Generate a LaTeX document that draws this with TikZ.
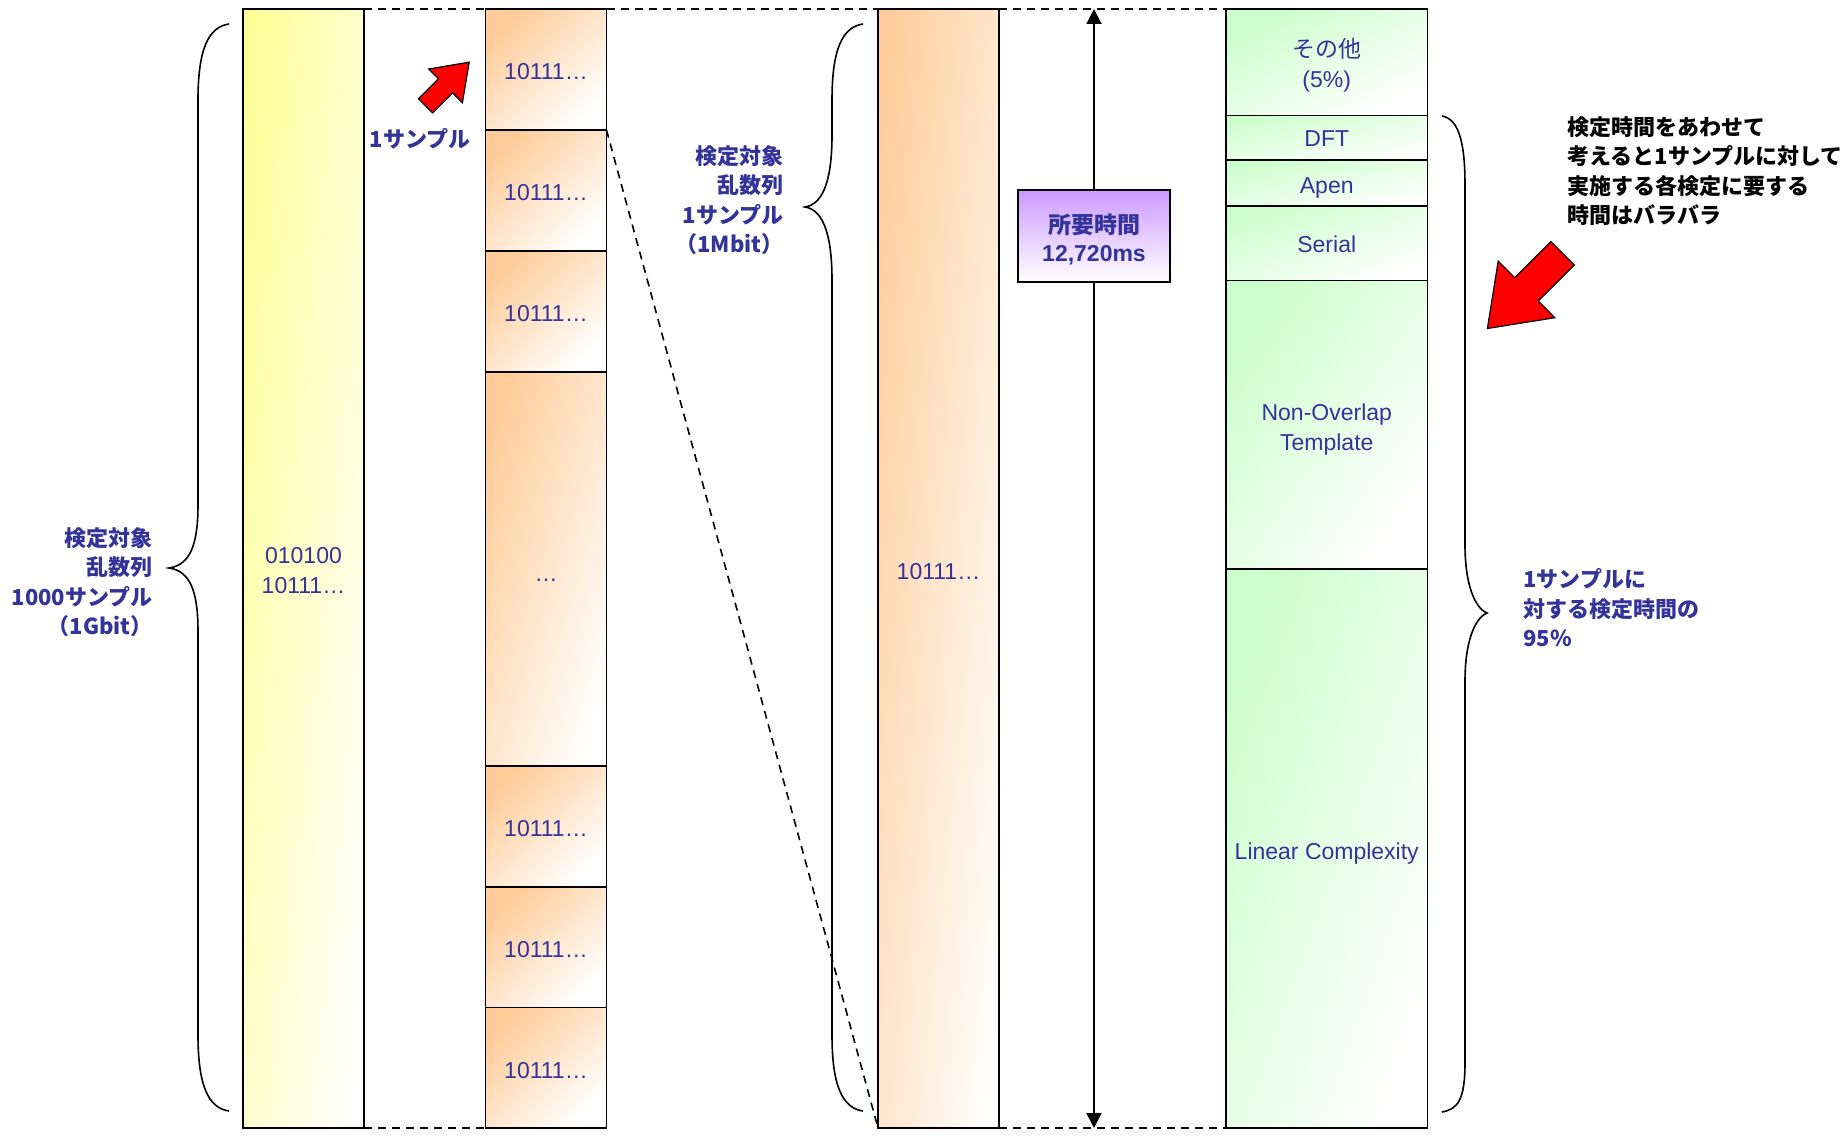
\documentclass[tikz,border=0pt]{standalone}
\usepackage{fontspec}
\setmainfont{Liberation Sans}
\newfontfamily\jp{Noto Sans CJK JP}
\usetikzlibrary{arrows.meta}
\definecolor{txtblue}{RGB}{51,51,153}
\definecolor{ylw}{RGB}{255,255,153}
\definecolor{orng}{RGB}{255,204,153}
\definecolor{grn}{RGB}{204,255,204}
\definecolor{purp}{RGB}{204,153,255}
\tikzset{
  col/.style={draw=black, line width=0.9pt, inner sep=0pt, outer sep=0pt, anchor=north west},
  yfill/.style={top color=ylw, bottom color=white, shading angle=#1},
  ofill/.style={top color=orng, bottom color=white, shading angle=#1},
  gfill/.style={top color=grn, bottom color=white, shading angle=#1},
  txt/.style={inner sep=0pt, align=center, text=txtblue, font=\fontsize{11.5pt}{15pt}\selectfont},
  jlabel/.style={text=txtblue, font=\jp\bfseries\fontsize{11pt}{14.75pt}\selectfont, inner sep=0pt},
  bracepath/.style={line width=0.8pt},
  dashline/.style={dash pattern=on 4pt off 3pt, line width=0.8pt},
  redarrow/.style={fill=red, draw=black, line width=0.6pt, line join=miter},
}
\begin{document}
\begin{tikzpicture}[x=0.5pt,y=-0.5pt]
\fill[white] (0,0) rectangle (1848,1138);
\useasboundingbox (0,0) rectangle (1848,1138);

% braces
\draw[bracepath] (229,24) .. controls (208,27) and (198,50) .. (198,100) -- (198,505)
  .. controls (198,545) and (190,565) .. (169,568)
  .. controls (190,571) and (198,591) .. (198,631) -- (198,1035)
  .. controls (198,1085) and (208,1108) .. (229,1111);
\draw[bracepath] (863,24) .. controls (842,27) and (832,50) .. (832,100) -- (832,135)
  .. controls (832,175) and (825,204) .. (805,207)
  .. controls (825,210) and (832,240) .. (832,280) -- (832,1035)
  .. controls (832,1085) and (842,1108) .. (863,1111);
\draw[bracepath] (1442,116) .. controls (1458,119) and (1465,140) .. (1465,185) -- (1465,545)
  .. controls (1465,585) and (1475,608) .. (1487,613)
  .. controls (1475,618) and (1465,641) .. (1465,681) -- (1465,1062)
  .. controls (1465,1100) and (1458,1109) .. (1442,1112);

% yellow column
\node[col, yfill=83.8, minimum width=60.5pt, minimum height=559.5pt] (Y) at (243,9) {};

% orange cells
\node[col, ofill=45, minimum width=60.5pt, minimum height=60.5pt] (c1) at (485.5,9) {};
\node[col, ofill=45, minimum width=60.5pt, minimum height=60.5pt] (c2) at (485.5,130) {};
\node[col, ofill=45, minimum width=60.5pt, minimum height=60.5pt] (c3) at (485.5,251) {};
\node[col, ofill=72.9, minimum width=60.5pt, minimum height=197pt] (c4) at (485.5,372) {};
\node[col, ofill=45, minimum width=60.5pt, minimum height=60.5pt] (c5) at (485.5,766) {};
\node[col, ofill=45, minimum width=60.5pt, minimum height=60.25pt] (c6) at (485.5,887) {};
\node[col, ofill=45, minimum width=60.5pt, minimum height=60.25pt] (c7) at (485.5,1007.5) {};

% orange column 2
\node[col, ofill=83.8, minimum width=60.5pt, minimum height=559.5pt] (oc) at (878,9) {};

% green cells
\node[col, gfill=27.9, minimum width=100.75pt, minimum height=53.25pt] (g1) at (1226,9) {};
\node[col, gfill=12.5, minimum width=100.75pt, minimum height=22.25pt] (g2) at (1226,115.5) {};
\node[col, gfill=12.9, minimum width=100.75pt, minimum height=23pt] (g3) at (1226,160) {};
\node[col, gfill=20.3, minimum width=100.75pt, minimum height=37.25pt] (g4) at (1226,206) {};
\node[col, gfill=55.1, minimum width=100.75pt, minimum height=144.25pt] (g5) at (1226,280.5) {};
\node[col, gfill=70.2, minimum width=100.75pt, minimum height=279.5pt] (g6) at (1226,569) {};

% texts in the columns
\node[txt, yshift=-1.2pt] (tY) at (Y.center) {010100\\10111…};
\node[txt, yshift=-1.2pt] (t1) at (c1.center) {10111…};
\node[txt, yshift=-1.2pt] (t2) at (c2.center) {10111…};
\node[txt, yshift=-1.2pt] (t3) at (c3.center) {10111…};
\node[txt, yshift=-2.3pt] (t4) at (c4.center) {\vphantom{0}…};
\node[txt, yshift=-1.2pt] (t5) at (c5.center) {10111…};
\node[txt, yshift=-1.2pt] (t6) at (c6.center) {10111…};
\node[txt, yshift=-1.2pt] (t7) at (c7.center) {10111…};
\node[txt, yshift=-1.75pt] (toc) at (oc.center) {10111…};
\node[txt, yshift=-1.75pt] (tg1) at (g1.center) {{\jp その他}\\(5\%)};
\node[txt, yshift=-0.6pt] (tg2) at (g2.center) {DFT};
\node[txt, yshift=-2.3pt] (tg3) at (g3.center) {Apen};
\node[txt, yshift=-0.6pt] (tg4) at (g4.center) {Serial};
\node[txt, yshift=-2.3pt] (tg5) at (g5.center) {Non-Overlap\\Template};
\node[txt, yshift=-2.3pt] (tg6) at (g6.center) {Linear Complexity};

% dashed connectors
\draw[dashline] (Y.north east) -- (c1.north west);
\draw[dashline] (c1.north east) -- (oc.north west);
\draw[dashline] (oc.north east) -- (g1.north west);
\draw[dashline] (Y.south east) -- (c7.south west);
\draw[dashline] (oc.south east) -- (g6.south west);
\draw[dashline] (c1.south east) -- (oc.south west);

% time arrow
\coordinate (atop) at (1094,9);
\coordinate (abot) at (1094,1128);
\draw[line width=1pt, {Triangle[length=7.5pt,width=7.5pt]}-{Triangle[length=7.5pt,width=7.5pt]}] (atop) -- (abot);

\node[draw=black, line width=0.9pt, top color=purp, bottom color=white, minimum width=76pt, minimum height=46pt,
  inner sep=0pt] (req) at (1094,236) {};
\node[txt, font=\bfseries\fontsize{11.5pt}{14pt}\selectfont, yshift=-1.5pt] (treq) at (req.center)
  {{\jp 所要時間}\\12,720ms};

% labels
\node[jlabel, align=right, anchor=east] (lbl1) at (153,582) {検定対象\\乱数列\\1000サンプル\\（1Gbit）};
\node[jlabel] (lbl2) at (420,139) {1サンプル};
\node[jlabel, align=right, anchor=east] (lbl3) at (784,200) {検定対象\\乱数列\\1サンプル\\（1Mbit）};
\node[jlabel, align=left, anchor=west] (lbl4) at (1523,608) {1サンプルに\\対する検定時間の\\95\%};
\node[jlabel, text=black, align=left, anchor=west] (note) at (1567,171) {検定時間をあわせて\\考えると1サンプルに対して\\実施する各検定に要する\\時間はバラバラ};

% red block arrows
\draw[redarrow] (418.5,98.7) -- (432.7,112.9) -- (452.7,92.9) -- (462.4,102.6) -- (469.2,62.2) -- (428.8,69.0) -- (438.5,78.7) -- cycle;
\draw[redarrow] (1550.9,241.6) -- (1574.3,265.0) -- (1538.2,301.0) -- (1554.8,317.7) -- (1487.4,328.5) -- (1498.2,261.1) -- (1514.8,277.7) -- cycle;
\end{tikzpicture}
\end{document}
